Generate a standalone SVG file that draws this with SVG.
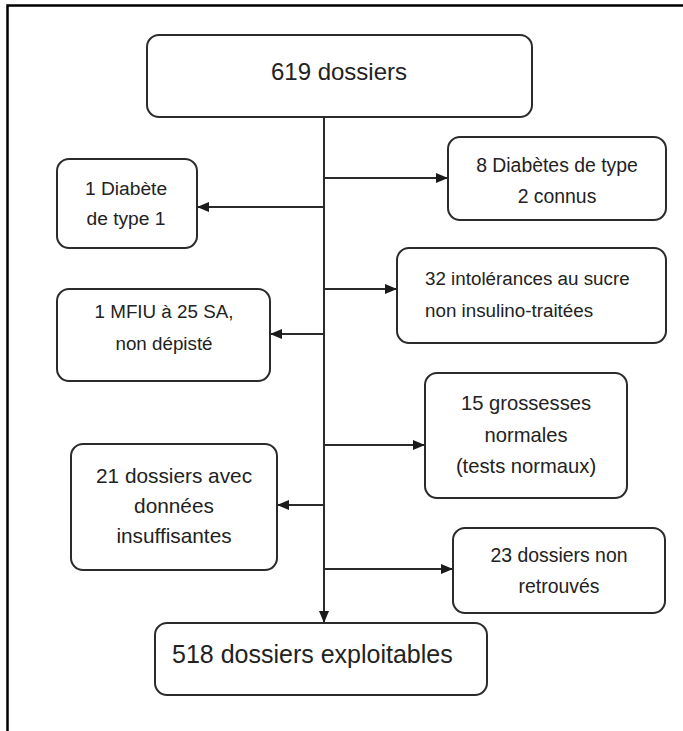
<svg xmlns="http://www.w3.org/2000/svg" width="683" height="731" viewBox="0 0 683 731">
<defs>
<style>
.box{fill:#ffffff;stroke:#2b2b2b;stroke-width:2}
.t{font-family:"Liberation Sans",Arial,sans-serif;fill:#222222;text-anchor:middle}
.tl{font-family:"Liberation Sans",Arial,sans-serif;fill:#222222;text-anchor:start}
.ln{stroke:#2b2b2b;stroke-width:2;fill:none}
.frame{stroke:#000;stroke-width:2.5;fill:none}
</style>
<marker id="ah" viewBox="0 0 12 10" refX="12" refY="5" markerWidth="12" markerHeight="10" markerUnits="userSpaceOnUse" orient="auto">
<path d="M0,0 L12,5 L0,10 Z" fill="#1a1a1a"/>
</marker>
</defs>
<rect x="0" y="0" width="683" height="731" fill="#ffffff"/>
<path class="frame" d="M7.5,731 L7.5,5.5 L683,5.5"/>

<g id="connectors">
<line class="ln" x1="324" y1="117" x2="324" y2="623" marker-end="url(#ah)"/>
<line class="ln" x1="324" y1="178" x2="448" y2="178" marker-end="url(#ah)"/>
<line class="ln" x1="324" y1="207" x2="197" y2="207" marker-end="url(#ah)"/>
<line class="ln" x1="324" y1="289" x2="397" y2="289" marker-end="url(#ah)"/>
<line class="ln" x1="324" y1="334" x2="270" y2="334" marker-end="url(#ah)"/>
<line class="ln" x1="324" y1="445" x2="425" y2="445" marker-end="url(#ah)"/>
<line class="ln" x1="324" y1="505" x2="277" y2="505" marker-end="url(#ah)"/>
<line class="ln" x1="324" y1="569" x2="453" y2="569" marker-end="url(#ah)"/>
</g>

<g id="n619">
<rect class="box" x="147" y="35" width="385" height="82" rx="12"/>
<text class="t" x="339" y="80" font-size="24">619 dossiers</text>
</g>

<g id="n8diab">
<rect class="box" x="448" y="137" width="218" height="83" rx="12"/>
<text class="t" x="557" y="172" font-size="19.4">8 Diabètes de type</text>
<text class="t" x="557" y="203" font-size="19.4">2 connus</text>
</g>

<g id="n1diab">
<rect class="box" x="57" y="159" width="140" height="89" rx="12"/>
<text class="t" x="126" y="195" font-size="19.2">1 Diabète</text>
<text class="t" x="126" y="225" font-size="19.2">de type 1</text>
</g>

<g id="n32">
<rect class="box" x="397" y="248" width="269" height="95" rx="12"/>
<text class="tl" x="425" y="285" font-size="18.8">32 intolérances au sucre</text>
<text class="tl" x="425" y="317" font-size="18.8">non insulino-traitées</text>
</g>

<g id="nmfiu">
<rect class="box" x="57" y="289" width="213" height="92" rx="12"/>
<text class="t" x="164" y="318" font-size="18.8">1 MFIU à 25 SA,</text>
<text class="t" x="164" y="350" font-size="18.8">non dépisté</text>
</g>

<g id="n15">
<rect class="box" x="425" y="373" width="202" height="125" rx="12"/>
<text class="t" x="526" y="410" font-size="20.2">15 grossesses</text>
<text class="t" x="526" y="442" font-size="20.2">normales</text>
<text class="t" x="526" y="473" font-size="20.2">(tests normaux)</text>
</g>

<g id="n21">
<rect class="box" x="71" y="444" width="206" height="126" rx="12"/>
<text class="t" x="174" y="483" font-size="20.8">21 dossiers avec</text>
<text class="t" x="174" y="513" font-size="20.8">données</text>
<text class="t" x="174" y="543" font-size="20.8">insuffisantes</text>
</g>

<g id="n23">
<rect class="box" x="453" y="528" width="212" height="85" rx="12"/>
<text class="t" x="559" y="562" font-size="19.4">23 dossiers non</text>
<text class="t" x="559" y="593" font-size="19.4">retrouvés</text>
</g>

<g id="n518">
<rect class="box" x="155" y="623" width="332" height="72" rx="12"/>
<text class="tl" x="172" y="663" font-size="25">518 dossiers exploitables</text>
</g>
</svg>
